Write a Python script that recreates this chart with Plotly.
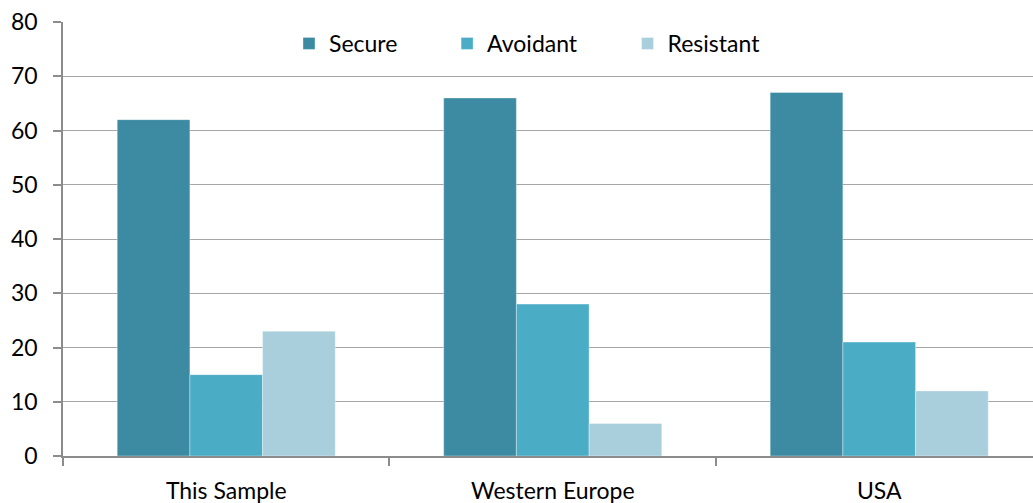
import plotly.graph_objects as go

regions = ["This Sample", "Western Europe", "USA"]
secure = [62, 66, 67]
avoidant = [15, 28, 21]
resistant = [23, 6, 12]

series = [
    ("Secure", secure, "#3C8BA3", "legend", 0.233),
    ("Avoidant", avoidant, "#4BACC6", "legend2", 0.396),
    ("Resistant", resistant, "#A9CFDD", "legend3", 0.582),
]

fig = go.Figure()
legend_layouts = {}
for name, vals, color, leg, lx in series:
    fig.add_trace(go.Bar(
        name=name, x=regions, y=vals, legend=leg,
        marker=dict(color=color, line=dict(color="rgba(255,255,255,0.45)", width=0.8)),
    ))
    legend_layouts[leg] = dict(
        orientation="h", x=lx, xanchor="left", y=1.0, yanchor="top",
        font=dict(size=23), bgcolor="rgba(0,0,0,0)", itemwidth=30,
    )

font_family = "Lato, 'Open Sans', sans-serif"
fig.update_layout(
    width=1033, height=503,
    margin=dict(l=63, r=0, t=22, b=47),
    paper_bgcolor="white", plot_bgcolor="white",
    barmode="group", bargap=0.332, bargroupgap=0,
    font=dict(family=font_family, size=23, color="#000000"),
    showlegend=True,
    xaxis=dict(
        range=[-0.5, 2.471], showgrid=False,
        showline=True, linecolor="#8C8C8C", linewidth=1.5,
        ticks="outside", tickson="boundaries", ticklen=8, tickcolor="#8C8C8C",
        tickwidth=1.5, tickfont=dict(size=23), ticklabelstandoff=14,
    ),
    yaxis=dict(
        range=[0, 80], dtick=10, showgrid=True, gridcolor="#A6A6A6", gridwidth=1.3,
        showline=True, linecolor="#8C8C8C", linewidth=1.5, zeroline=False,
        ticks="outside", ticklen=8, tickcolor="#8C8C8C", tickwidth=1.5,
        tickfont=dict(size=23), ticklabelstandoff=11,
    ),
    **legend_layouts,
)

fig.write_html("out.html")
